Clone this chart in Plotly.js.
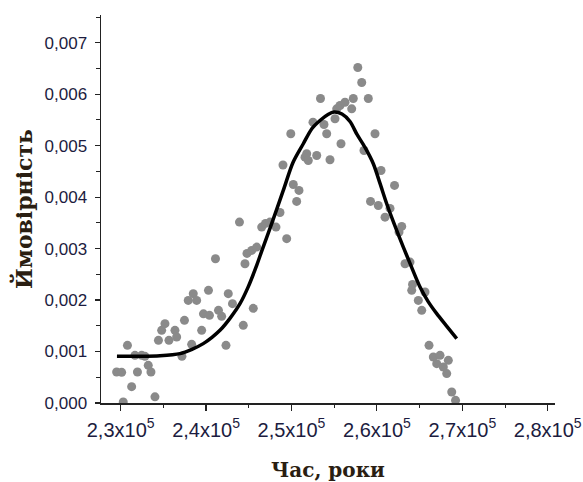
<!DOCTYPE html>
<html>
<head>
<meta charset="utf-8">
<script src="https://cdn.plot.ly/plotly-3.0.1.min.js"></script>
<style>html,body{margin:0;padding:0;background:#fff;}#chart{width:583px;height:482px;}</style>
</head>
<body>
<div id="chart"></div>
<script>
// Scatter data (time, years; probability)
const pointsX = [229532,230117,230304,230796,231288,231675,231967,232459,232846,233232,233548,234017,234426,234801,235188,235656,236359,236558,237178,237471,238314,237916,238501,238900,239485,239696,240281,240398,241101,241452,241827,242331,242600,243092,243911,244356,244556,244790,245340,245926,245527,246511,246956,247483,248186,248654,249005,249439,249919,250211,250879,250610,251582,251781,251968,252518,252952,253397,253806,254123,254509,255095,255294,255680,255797,256266,257050,257237,257764,258221,258490,258994,259779,259252,260165,260481,260950,261535,262062,262905,262589,263292,263877,264170,264076,265634,264849,265247,266102,266605,267390,268362,267004,267776,268175,268760,269205];
const pointsY = [0.000602,0.000596,0.00002,0.001121,0.000318,0.000926,0.000602,0.000926,0.000907,0.000732,0.000602,0.00012,0.001218,0.001412,0.001542,0.001218,0.001412,0.001282,0.000907,0.001606,0.00114,0.001994,0.002125,0.001994,0.001412,0.001732,0.002189,0.001703,0.002804,0.0018,0.001684,0.001121,0.002125,0.00193,0.003515,0.001509,0.002707,0.002907,0.002965,0.00303,0.001839,0.003418,0.00349,0.003515,0.003418,0.003703,0.004626,0.003193,0.005232,0.004247,0.004131,0.003917,0.004777,0.004843,0.004713,0.005457,0.00481,0.005917,0.005412,0.005232,0.004727,0.005523,0.005717,0.005781,0.005038,0.005845,0.005717,0.005917,0.006519,0.006228,0.004907,0.005917,0.005232,0.003917,0.003839,0.004519,0.003612,0.003781,0.004228,0.003432,0.003321,0.002707,0.002738,0.002305,0.002189,0.002156,0.001994,0.0018,0.001121,0.000893,0.000926,0.000829,0.000765,0.000699,0.000571,0.000214,0.000052];

// Fitted curve
const curveX = [229567,232260,234602,236944,238349,239672,240691,241628,242799,243970,244907,245926,246546,247483,249040,250176,251382,252401,253338,254275,254977,255914,256851,257671,258608,259579,260364,261149,262000,263092,263877,265048,265985,267004,268093,269346];
const curveY = [0.000907,0.000907,0.000917,0.000959,0.001043,0.001154,0.001276,0.001412,0.001645,0.00193,0.002247,0.002674,0.002965,0.003393,0.004131,0.004674,0.005038,0.005335,0.00549,0.005607,0.005655,0.005616,0.005471,0.005218,0.004966,0.004649,0.004267,0.003872,0.00349,0.00303,0.002713,0.002253,0.001975,0.001736,0.001509,0.001251];

// Tick labels
const xTickVals = [230000,240000,250000,260000,270000,280000];
const xTickText = ['2,3x10<sup>5</sup>','2,4x10<sup>5</sup>','2,5x10<sup>5</sup>','2,6x10<sup>5</sup>','2,7x10<sup>5</sup>','2,8x10<sup>5</sup>'];
const yTickVals = [0,0.001,0.002,0.003,0.004,0.005,0.006,0.007];
const yTickText = ['0,000','0,001','0,002','0,003','0,004','0,005','0,006','0,007'];

const xTitle = 'Час, роки';
const yTitle = 'Ймовірність';

const traces = [
  {x: pointsX, y: pointsY, type: 'scatter', mode: 'markers',
   marker: {color: '#8a8a8a', size: 9, line: {width: 0}}, hoverinfo: 'skip'},
  {x: curveX, y: curveY, type: 'scatter', mode: 'lines',
   line: {color: '#000', width: 3.5, shape: 'spline', smoothing: 0.8}, hoverinfo: 'skip'}
];

const tickFontY = {family: 'Liberation Sans, Arial, sans-serif', size: 17, color: '#1c1c40'};
const tickFontX = {family: 'Liberation Sans, Arial, sans-serif', size: 20, color: '#1c1c40'};
const titleFont = {family: 'DejaVu Serif, serif', size: 20, color: '#2a1e12', weight: 'bold'};

const layout = {
  width: 583, height: 482,
  margin: {l: 101, r: 28, t: 15, b: 79},
  paper_bgcolor: '#fff', plot_bgcolor: '#fff',
  showlegend: false,
  xaxis: {
    range: [227700, 280850], showgrid: false, zeroline: false,
    showline: true, linecolor: '#222', linewidth: 1.5, mirror: false,
    tickmode: 'array', tickvals: xTickVals, ticktext: xTickText,
    ticks: 'outside', ticklen: 6, tickwidth: 1.2, tickcolor: '#222',
    tickfont: tickFontX, ticklabelstandoff: 2,
    minor: {tickmode: 'linear', tick0: 230000, dtick: 5000, ticks: 'outside', ticklen: 3, tickwidth: 1, tickcolor: '#222', showgrid: false},
    title: {text: xTitle, font: titleFont, standoff: 23},
    automargin: false
  },
  yaxis: {
    range: [0, 0.00754], showgrid: false, zeroline: false,
    showline: true, linecolor: '#222', linewidth: 1.5, mirror: false,
    tickmode: 'array', tickvals: yTickVals, ticktext: yTickText,
    ticks: 'outside', ticklen: 5, tickwidth: 1.2, tickcolor: '#222',
    tickfont: tickFontY, ticklabelstandoff: 4,
    minor: {tickmode: 'linear', tick0: 0, dtick: 0.0005, ticks: 'outside', ticklen: 4, tickwidth: 1, tickcolor: '#222', showgrid: false},
    title: {text: yTitle, font: {family: 'DejaVu Serif, serif', size: 22, color: '#2a1e12', weight: 'bold'}, standoff: 6},
    automargin: false
  }
};

Plotly.newPlot('chart', traces, layout, {staticPlot: true, displayModeBar: false});
</script>
</body>
</html>
